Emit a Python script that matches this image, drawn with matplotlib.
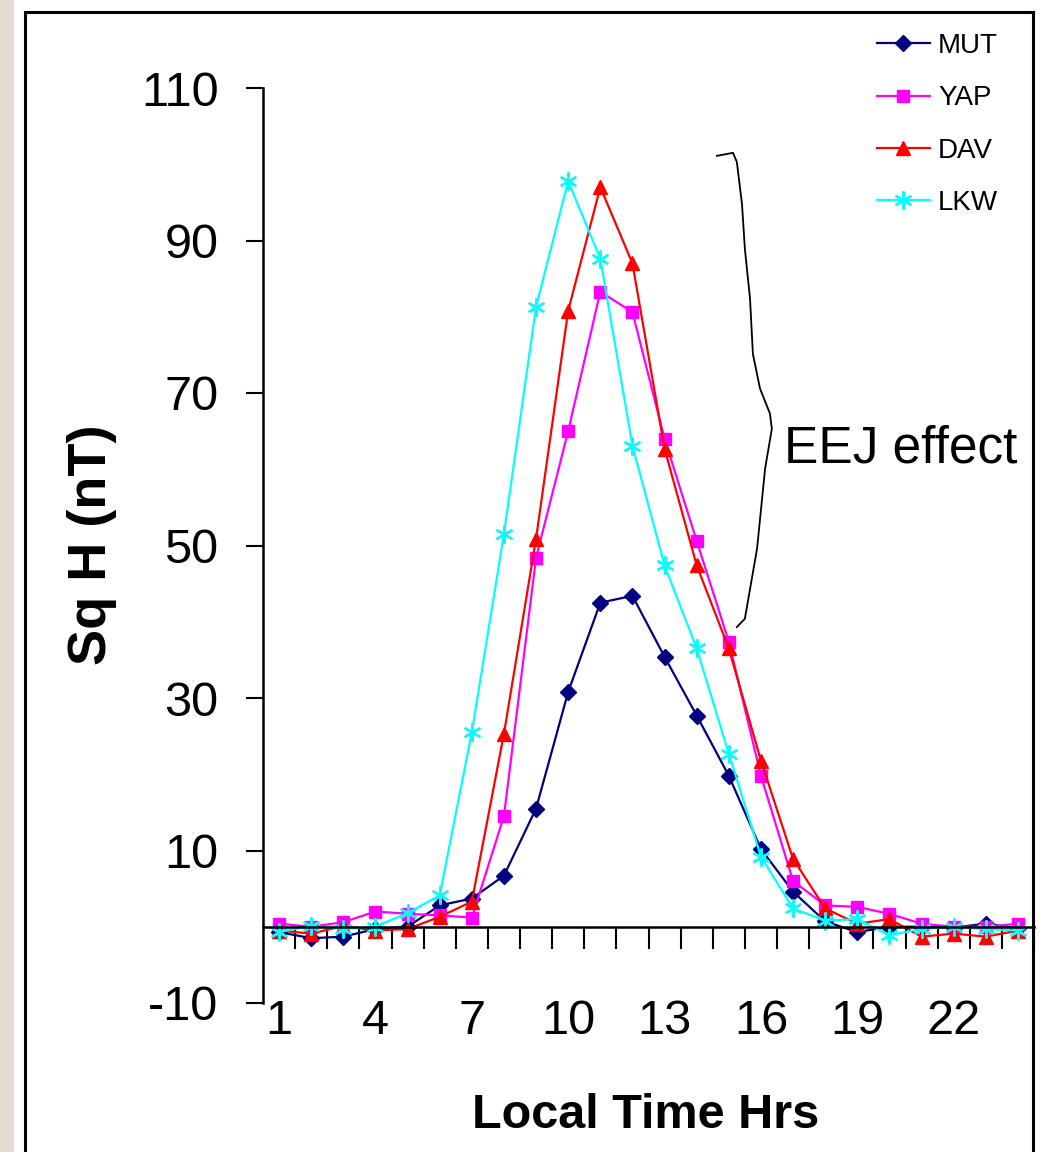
import matplotlib
matplotlib.use("Agg")
import matplotlib.pyplot as plt
from matplotlib.lines import Line2D
from matplotlib.patches import Rectangle

plt.rcParams["axes.unicode_minus"] = False

# ---- data ----
hours = list(range(1, 25))
MUT = [-0.7, -1.5, -1.3, -0.3, 0.0, 2.8, 3.7, 6.7, 15.5, 30.8, 42.5, 43.4,
       35.4, 27.7, 19.8, 10.2, 4.6, 0.7, -0.7, 0.0, 0.0, -0.1, 0.4, -0.2]
YAP = [0.4, 0.0, 0.6, 2.0, 1.7, 1.5, 1.2, 14.5, 48.4, 65.0, 83.3, 80.6,
       64.0, 50.6, 37.4, 19.8, 6.0, 2.8, 2.6, 1.7, 0.4, 0.0, 0.0, 0.4]
DAV = [-0.5, -0.9, 0.1, -0.5, -0.3, 1.3, 3.3, 25.3, 50.9, 80.8, 97.0, 87.0,
       62.7, 47.4, 36.5, 21.8, 8.9, 2.4, 0.4, 1.0, -1.3, -0.9, -1.3, -0.5]
LKW = [-0.7, 0.1, -0.3, 0.0, 1.8, 4.1, 25.5, 51.5, 81.3, 97.8, 87.6, 63.1,
       47.4, 36.5, 22.7, 9.2, 2.4, 0.8, 1.0, -1.1, -0.3, 0.0, -0.3, -0.5]
series_names = ["MUT", "YAP", "DAV", "LKW"]
y_ticks = [-10, 10, 30, 50, 70, 90, 110]
x_labels = [1, 4, 7, 10, 13, 16, 19, 22]
# brace annotation outline (data coords)
brace_x = [14.63, 15.13, 15.25, 15.41, 15.50, 15.66, 15.75, 15.97, 16.28, 16.34,
           16.13, 15.88, 15.50, 15.25]
brace_y = [101.1, 101.5, 100.3, 94.8, 88.9, 82.4, 75.1, 70.6, 67.3, 65.3,
           60.1, 49.6, 40.4, 39.3]

W, H = 1045, 1152
fig = plt.figure(figsize=(W / 100, H / 100), dpi=100)
fig.patch.set_facecolor("white")

sans = ["Liberation Sans", "DejaVu Sans"]

# page decoration: beige strip and black frame
fig.add_artist(Rectangle((0, 0), 14 / W, 1, transform=fig.transFigure,
                         facecolor="#E3DAD0", edgecolor="none", zorder=0))
frame_kw = dict(transform=fig.transFigure, color="black", lw=2.2, zorder=5)
fig.add_artist(Line2D([25 / W, 25 / W], [0, 1 - 12 / H], **frame_kw))
fig.add_artist(Line2D([25 / W, 1033 / W], [1 - 12 / H, 1 - 12 / H], **frame_kw))
fig.add_artist(Line2D([1033 / W, 1033 / W], [0, 1 - 12 / H], **frame_kw))

ax = fig.add_axes([263 / W, 1 - 1003 / H, 771 / W, 915 / H])
ax.set_facecolor("none")

styles = {
    "MUT": dict(color="#000080", marker="D", ms=8),
    "YAP": dict(color="#FF00FF", marker="s", ms=9),
    "DAV": dict(color="#FF0000", marker="^", ms=10),
    "LKW": dict(color="#00FFFF", marker=(6, 2, 0), ms=13, mew=1.6),
}
data = {"MUT": MUT, "YAP": YAP, "DAV": DAV, "LKW": LKW}
for name in series_names:
    ax.plot(hours, data[name], lw=1.6, label=name, **styles[name])

ax.set_xlim(0.5, 24.5)
ax.set_ylim(-10, 110)

for s in ["top", "right"]:
    ax.spines[s].set_visible(False)
ax.spines["left"].set_linewidth(1.8)
ax.spines["bottom"].set_linewidth(1.8)
ax.spines["bottom"].set_position(("data", 0))

ax.set_yticks(y_ticks)
ax.tick_params(axis="y", direction="out", length=12, width=1.5, pad=20,
               labelsize=35)
for lab in ax.get_yticklabels():
    lab.set_fontfamily(sans)

ax.set_xticks(x_labels)
ax.set_xticks([h + 0.5 for h in hours], minor=True)
ax.tick_params(axis="x", which="major", length=0, pad=52, labelsize=35)
ax.tick_params(axis="x", which="minor", direction="out", length=16, width=1.5)
for lab in ax.get_xticklabels():
    lab.set_fontfamily(sans)

fig.text(646 / W, 1 - 1115 / H, "Local Time Hrs", ha="center", va="center",
         fontsize=35, fontweight="bold", fontfamily=sans)
fig.text(92 / W, 1 - 545 / H, "Sq H (nT)", ha="center", va="center",
         rotation=90, fontsize=39, fontweight="bold", fontfamily=sans)

# brace + label
ax.plot(brace_x, brace_y, color="black", lw=1.3, clip_on=False)
ax.text(16.72, 62.6, "EEJ effect", ha="left", va="center", fontsize=37,
        fontfamily=sans)

leg = ax.legend(loc="upper left", bbox_to_anchor=(877 / W, 1 - 33 / H),
                bbox_transform=fig.transFigure, frameon=False, borderpad=0,
                borderaxespad=0, handlelength=1.9, handletextpad=0.3,
                labelspacing=0.95, prop={"family": sans, "size": 20})

fig.savefig("out.png", dpi=100, facecolor="white")
